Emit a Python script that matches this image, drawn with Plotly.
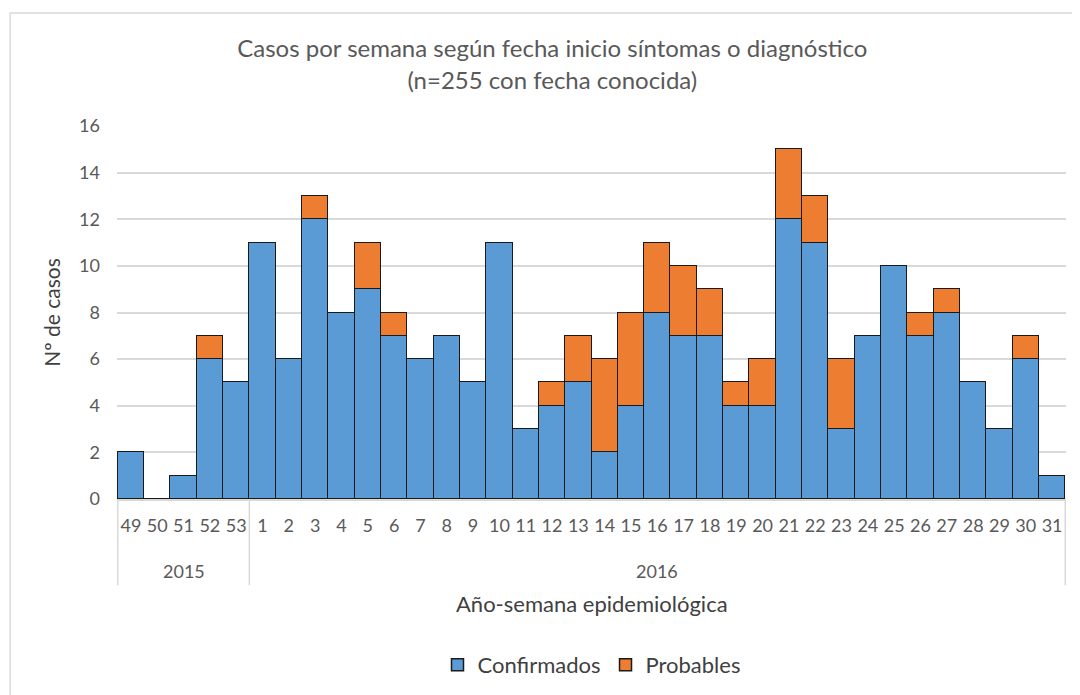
import plotly.graph_objects as go

years = ["2015"] * 5 + ["2016"] * 31
weeks = ["49", "50", "51", "52", "53"] + [str(i) for i in range(1, 32)]
confirmados = [2, 0, 1, 6, 5,
               11, 6, 12, 8, 9, 7, 6, 7, 5, 11,
               3, 4, 5, 2, 4, 8, 7, 7, 4, 4,
               12, 11, 3, 7, 10, 7, 8, 5, 3, 6, 1]
probables = [0, 0, 0, 1, 0,
             0, 0, 1, 0, 2, 1, 0, 0, 0, 0,
             0, 1, 2, 4, 4, 3, 3, 2, 1, 2,
             3, 2, 3, 0, 0, 1, 1, 0, 0, 1, 0]

FONT = "Lato, 'Open Sans', sans-serif"
GREY = "#595959"
LINE = "#d9d9d9"

fig = go.Figure()
fig.add_trace(go.Bar(x=weeks, y=confirmados, name="Confirmados",
                     marker=dict(color="#5B9BD5", line=dict(color="#1a1a1a", width=1.5))))
fig.add_trace(go.Bar(x=weeks, y=probables, name="Probables",
                     marker=dict(color="#ED7D31", line=dict(color="#1a1a1a", width=1.5))))

# year groups: dividers and labels computed from the data
groups = []
for i, yv in enumerate(years):
    if not groups or groups[-1][0] != yv:
        groups.append([yv, i, i])
    else:
        groups[-1][2] = i

shapes = [dict(type="rect", xref="paper", yref="paper", x0=-0.1126, x1=1.1, y0=-1, y1=1.303,
               line=dict(color=LINE, width=1.5), layer="below")]
annotations = []
edges = sorted({g[1] - 0.5 for g in groups} | {g[2] + 0.5 for g in groups})
for e in edges:
    shapes.append(dict(type="line", xref="x", yref="paper", x0=e, x1=e, y0=0, y1=-0.231,
                       line=dict(color=LINE, width=1.5)))
for name, a, b in groups:
    annotations.append(dict(text=name, xref="x", yref="paper", x=(a + b) / 2, y=-0.193,
                            showarrow=False, yanchor="middle", font=dict(size=18, color=GREY)))
annotations.append(dict(text="Año-semana epidemiológica", xref="paper", yref="paper", x=0.5, y=-0.279,
                        showarrow=False, yanchor="middle", font=dict(size=22, color="#404040")))

fig.update_layout(
    barmode="stack", bargap=0,
    width=1080, height=695,
    margin=dict(l=109, r=22, t=118, b=204),
    paper_bgcolor="white", plot_bgcolor="white",
    font=dict(family=FONT, color=GREY, size=18),
    title=dict(text="Casos por semana según fecha inicio síntomas o diagnóstico<br>(n=255 con fecha conocida)",
               x=0.504, xanchor="center", xref="container", y=0.929, yref="container", yanchor="middle",
               font=dict(size=24, color=GREY, family=FONT)),
    legend=dict(orientation="h", x=0.5, xanchor="center", y=-0.445, yanchor="middle",
                font=dict(size=22, color="#404040"), traceorder="normal"),
    shapes=shapes,
    annotations=annotations,
)
fig.update_xaxes(type="category", showgrid=False, showline=True, linecolor=LINE, linewidth=1.5,
                 ticks="", ticklabelstandoff=10, automargin=False,
                 tickfont=dict(size=18, color=GREY))
fig.update_yaxes(range=[0, 16], dtick=2, showgrid=True, gridcolor=LINE, gridwidth=1.5,
                 zeroline=False, ticks="", ticklabelstandoff=16, automargin=False,
                 tickfont=dict(size=18, color=GREY),
                 title=dict(text="Nº de casos", font=dict(size=21, color="#404040"), standoff=12))

fig.write_html("out.html")
